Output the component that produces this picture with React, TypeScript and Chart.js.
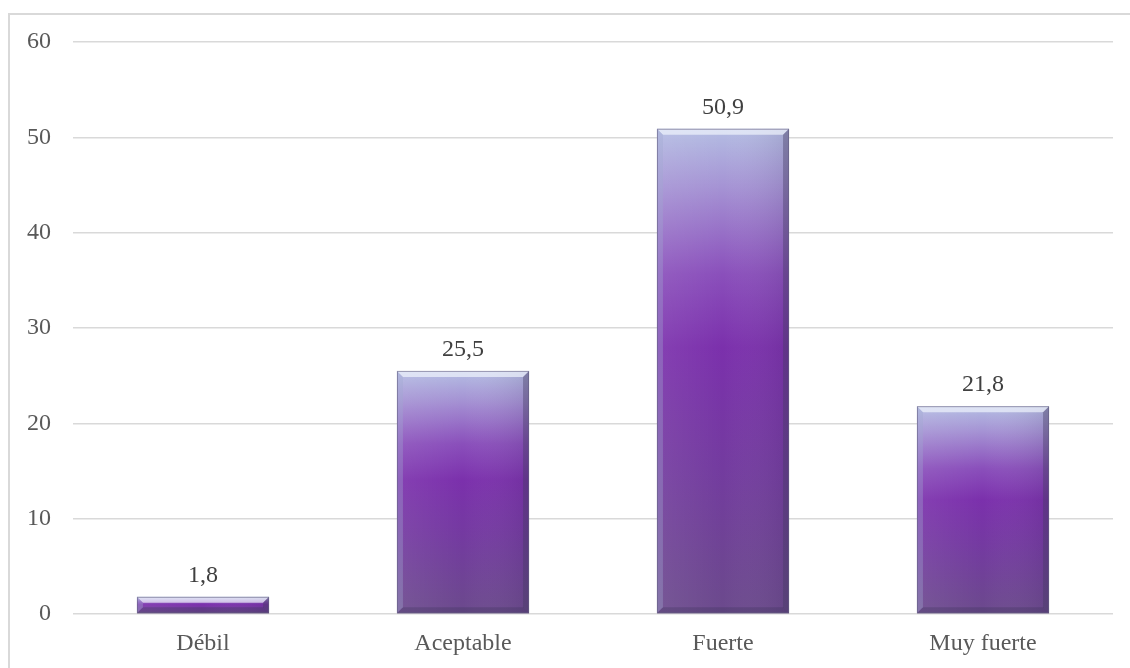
import React, { useEffect, useRef } from "react";
import { Chart, registerables } from "chart.js";

Chart.register(...registerables);

const categories = ["Débil", "Aceptable", "Fuerte", "Muy fuerte"];
const values = [1.8, 25.5, 50.9, 21.8];
const yTicks = [0, 10, 20, 30, 40, 50, 60];

const FONT = "'Liberation Serif', 'Times New Roman', serif";

const bevelPlugin = {
  id: "bevel",
  afterDatasetsDraw(chart: any) {
    const ctx = chart.ctx;
    const meta = chart.getDatasetMeta(0);
    meta.data.forEach((el: any, i: number) => {
      const w = el.width;
      const left = el.x - w / 2;
      const right = el.x + w / 2;
      const top = el.y;
      const bottom = el.base;
      const h = bottom - top;
      const b = Math.min(6, h / 2.5);
      ctx.save();
      // horizontal shading
      const hg = ctx.createLinearGradient(left, 0, right, 0);
      hg.addColorStop(0, "rgba(255,255,255,0.08)");
      hg.addColorStop(0.5, "rgba(255,255,255,0)");
      hg.addColorStop(1, "rgba(40,30,70,0.12)");
      ctx.fillStyle = hg;
      ctx.fillRect(left, top, w, h);
      // top bevel
      ctx.beginPath();
      ctx.moveTo(left, top);
      ctx.lineTo(right, top);
      ctx.lineTo(right - b, top + b);
      ctx.lineTo(left + b, top + b);
      ctx.closePath();
      ctx.fillStyle = "rgba(240,244,252,0.7)";
      ctx.fill();
      // left bevel
      ctx.beginPath();
      ctx.moveTo(left, top);
      ctx.lineTo(left + b, top + b);
      ctx.lineTo(left + b, bottom - b);
      ctx.lineTo(left, bottom);
      ctx.closePath();
      ctx.fillStyle = "rgba(160,170,210,0.35)";
      ctx.fill();
      // right bevel
      ctx.beginPath();
      ctx.moveTo(right, top);
      ctx.lineTo(right - b, top + b);
      ctx.lineTo(right - b, bottom - b);
      ctx.lineTo(right, bottom);
      ctx.closePath();
      ctx.fillStyle = "rgba(70,60,100,0.4)";
      ctx.fill();
      // bottom bevel
      ctx.beginPath();
      ctx.moveTo(left, bottom);
      ctx.lineTo(left + b, bottom - b);
      ctx.lineTo(right - b, bottom - b);
      ctx.lineTo(right, bottom);
      ctx.closePath();
      ctx.fillStyle = "rgba(60,50,90,0.3)";
      ctx.fill();
      // outline
      ctx.strokeStyle = "rgba(100,95,130,0.6)";
      ctx.lineWidth = 1;
      ctx.strokeRect(left + 0.5, top + 0.5, w - 1, h - 1);
      // value label
      ctx.fillStyle = "#404040";
      ctx.font = `24px ${FONT}`;
      ctx.textAlign = "center";
      ctx.textBaseline = "alphabetic";
      ctx.fillText(values[i].toFixed(1).replace(".", ","), el.x, top - 15);
      ctx.restore();
    });
  },
};

export default function App() {
  const ref = useRef<HTMLCanvasElement>(null);
  useEffect(() => {
    if (!ref.current) return;
    const chart = new Chart(ref.current, {
      type: "bar",
      data: {
        labels: categories,
        datasets: [
          {
            data: values,
            barPercentage: 0.508,
            categoryPercentage: 1,
            borderWidth: 0,
            backgroundColor: (c: any) => {
              const chart = c.chart;
              const ys = chart.scales && chart.scales.y;
              if (!ys || c.dataIndex === undefined) return "#7b34ab";
              const v = values[c.dataIndex];
              const yTop = ys.getPixelForValue(v);
              const yBase = ys.getPixelForValue(0);
              if (!isFinite(yTop) || !isFinite(yBase) || yBase - yTop < 1) return "#7b34ab";
              const g = chart.ctx.createLinearGradient(0, yTop, 0, yBase);
              g.addColorStop(0, "#b4bde3");
              g.addColorStop(0.12, "#a593d4");
              g.addColorStop(0.3, "#8a4fbb");
              g.addColorStop(0.45, "#7b30ac");
              g.addColorStop(0.7, "#733b9f");
              g.addColorStop(1, "#6b4a8c");
              return g;
            },
          },
        ],
      },
      options: {
        animation: false,
        responsive: false,
        maintainAspectRatio: false,
        layout: { padding: { left: 0, right: 17, top: 42, bottom: 0 } },
        plugins: { legend: { display: false }, tooltip: { enabled: false } },
        scales: {
          x: {
            grid: { display: false, drawTicks: false },
            border: { display: false },
            ticks: { color: "#595959", font: { family: FONT, size: 24 }, padding: 15 },
            afterFit: (s: any) => {
              s.height = 54;
            },
          },
          y: {
            min: 0,
            max: 60,
            afterBuildTicks: (s: any) => {
              s.ticks = yTicks.map((v) => ({ value: v }));
            },
            grid: { color: "#d9d9d9", lineWidth: 1.5, drawTicks: false },
            border: { display: false },
            ticks: { color: "#595959", font: { family: FONT, size: 24 }, padding: 22 },
            afterFit: (s: any) => {
              s.width = 73;
            },
          },
        },
      },
      plugins: [bevelPlugin],
    });
    return () => chart.destroy();
  }, []);
  return (
    <div style={{ position: "fixed", left: 0, top: 0, width: 1130, height: 668, overflow: "hidden", background: "#fff" }}>
      <div
        style={{
          position: "absolute",
          left: 8,
          top: 13,
          width: 1200,
          height: 800,
          border: "2px solid #d9d9d9",
        }}
      />
      <canvas ref={ref} width={1130} height={668} style={{ position: "absolute", left: 0, top: 0, width: 1130, height: 668 }} />
    </div>
  );
}
